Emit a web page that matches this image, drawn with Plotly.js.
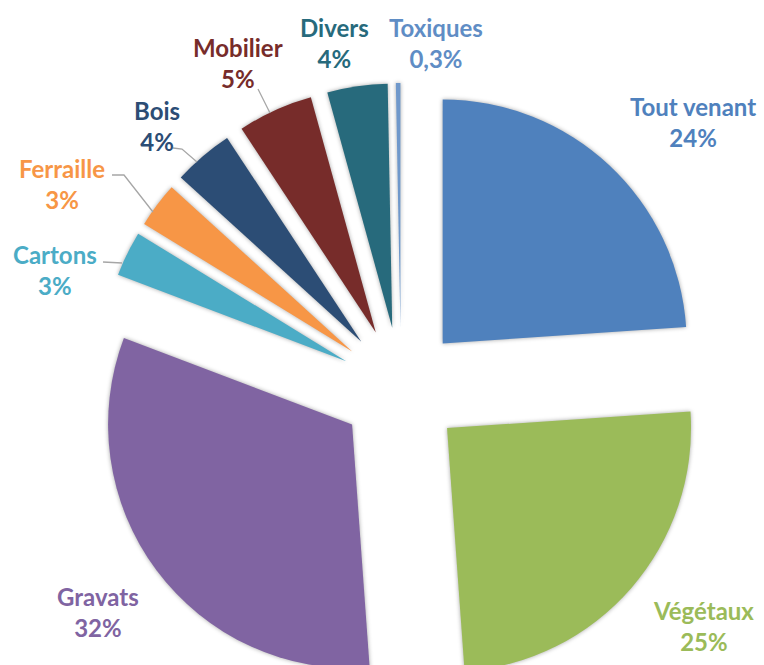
<!DOCTYPE html>
<html>
<head>
<meta charset="utf-8">
<script src="https://cdn.plot.ly/plotly-3.0.1.min.js"></script>
<style>
  html, body { margin: 0; padding: 0; overflow: hidden; background: #fff; }
  #chart { width: 764px; height: 760px; }
  #chart .pielayer .slice path.surface { filter: drop-shadow(0 0 2px rgba(0,0,0,0.35)); }
</style>
</head>
<body>
<div id="chart"></div>
<script>
// Répartition des déchets collectés (%)
var categories = ['Tout venant', 'Végétaux', 'Gravats', 'Cartons', 'Ferraille', 'Bois', 'Mobilier', 'Divers', 'Toxiques'];
var shares = [24, 25, 32, 3, 3, 4, 5, 4, 0.3];
var sliceColors = ['#4F81BD', '#9BBB59', '#8064A2', '#4BACC6', '#F79646', '#2C4D75', '#772C2A', '#276A7C', '#6F98CB'];
var textColors = ['#4F81BD', '#9BBB59', '#8064A2', '#4BACC6', '#F79646', '#2C4D75', '#772C2A', '#276A7C', '#5F8DC5'];

var pctText = shares.map(function (v) { return String(v).replace('.', ',') + '%'; });

// plot box in pixels (pie box 610x610)
var M = { l: 96, r: 58, t: 83, b: 67 };
var W = 764, H = 760;
var pw = W - M.l - M.r, ph = H - M.t - M.b;
function px(x) { return (x - M.l) / pw; }
function py(y) { return 1 - (y - M.t) / ph; }

// where the labels sit (pixel centres), like the Excel layout
var labelPos = [[693, 122], [703, 626], [98, 612], [55, 270], [62, 184], [157, 126], [238, 63], [334, 43], [436, 43]];

// leader lines (pixels)
var leaders = [
    [[103, 262], [122, 263]],
    [[112, 175], [124, 175], [153, 212]],
    [[173, 148], [182, 149], [197, 162]],
    [[258, 89], [270, 113]]
];

var data = [{
    type: 'pie',
    labels: categories,
    values: shares,
    sort: false,
    direction: 'clockwise',
    rotation: 0,
    pull: 0.25,
    marker: { colors: sliceColors, line: { width: 0 } },
    textinfo: 'none',
    hoverinfo: 'none',
    showlegend: false
}];

var annotations = categories.map(function (c, i) {
    return {
        xref: 'paper', yref: 'paper',
        x: px(labelPos[i][0]), y: py(labelPos[i][1]),
        xanchor: 'center', yanchor: 'middle',
        text: '<b>' + c + '</b><br><b>' + pctText[i] + '</b>',
        showarrow: false,
        align: 'center',
        font: { family: 'Lato, sans-serif', size: 24, color: textColors[i] }
    };
});

var shapes = leaders.map(function (pts) {
    var d = pts.map(function (p, k) { return (k ? 'L' : 'M') + px(p[0]) + ',' + py(p[1]); }).join(' ');
    return { type: 'path', xref: 'paper', yref: 'paper', path: d, line: { color: '#A6A6A6', width: 1.3 } };
});

var layout = {
    width: W,
    height: H,
    margin: M,
    paper_bgcolor: '#ffffff',
    showlegend: false,
    annotations: annotations,
    shapes: shapes
};

Plotly.newPlot('chart', data, layout, { staticPlot: true });
</script>
</body>
</html>
